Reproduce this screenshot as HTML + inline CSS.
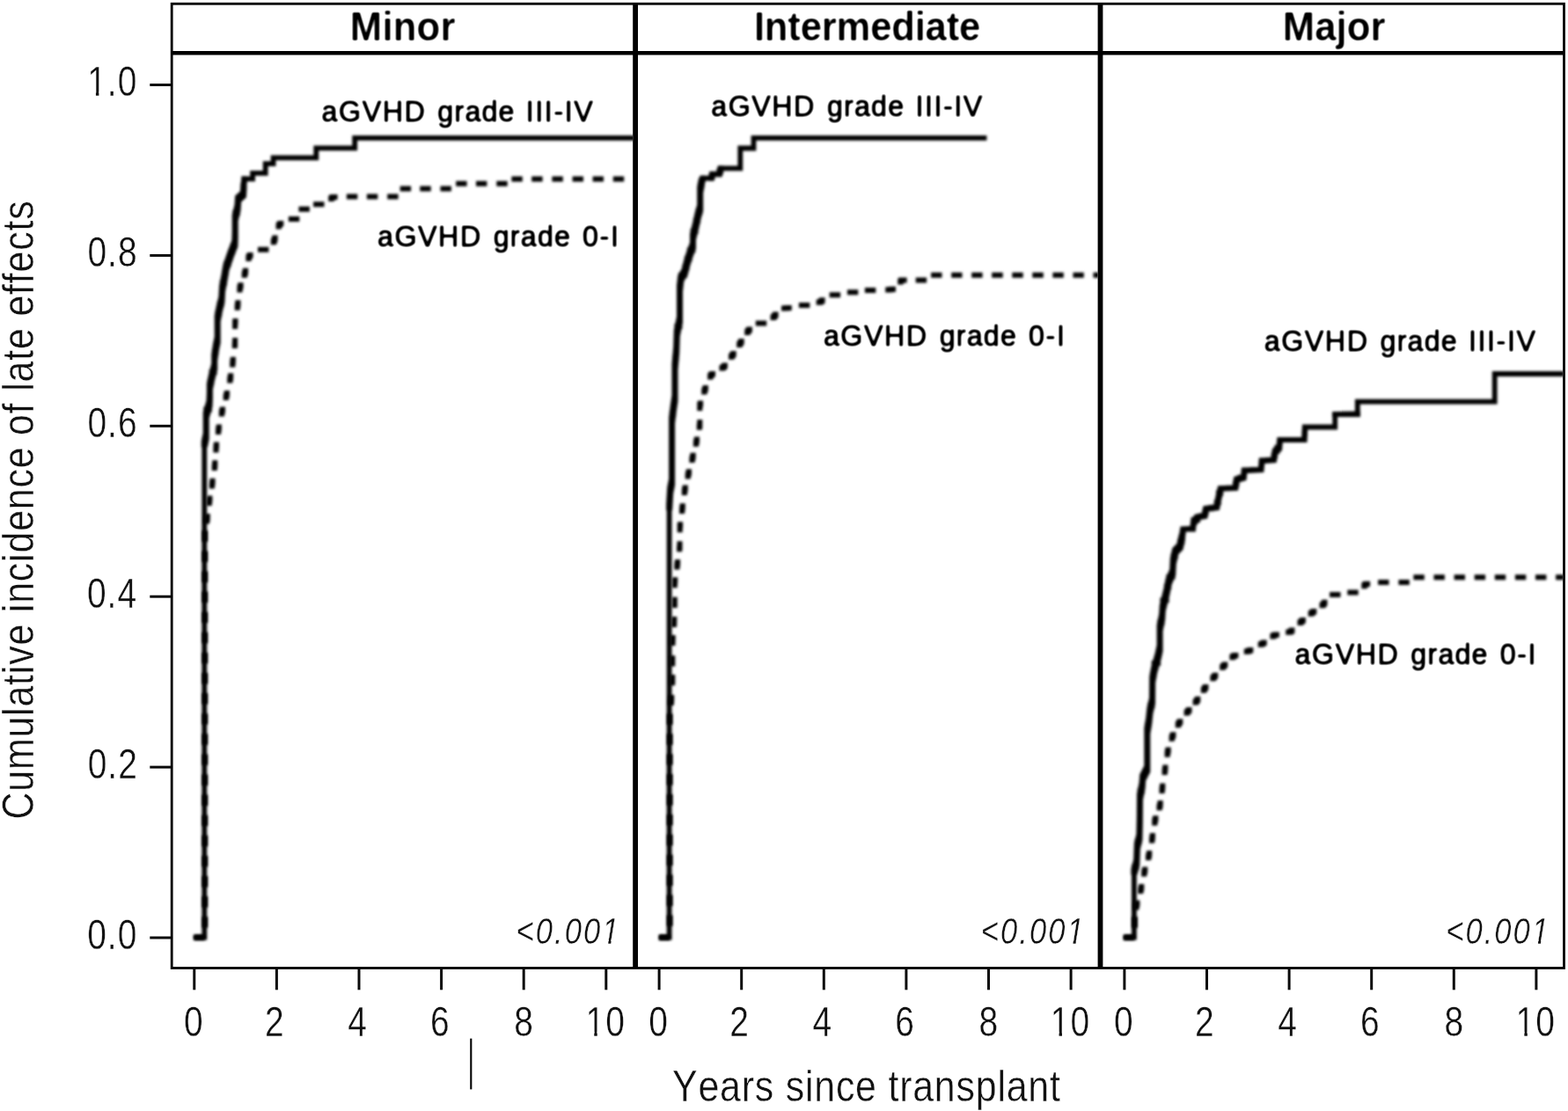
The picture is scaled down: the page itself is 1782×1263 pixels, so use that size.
<!DOCTYPE html>
<html lang="en">
<head>
<meta charset="utf-8">
<title>Cumulative incidence of late effects</title>
<style>
html,body{margin:0;padding:0;background:#fff;}
body{width:1782px;height:1263px;overflow:hidden;font-family:"Liberation Sans",Arial,Helvetica,sans-serif;}
svg{display:block;}
text{white-space:pre;font-kerning:none;}
</style>
</head>
<body>
<svg width="1782" height="1263" viewBox="0 0 1782 1263" font-family="Liberation Sans, Arial, Helvetica, sans-serif">
<rect x="0" y="0" width="1782" height="1263" fill="#fff"/>
<defs>
<clipPath id="cp0"><rect x="196.7" y="60" width="522.5" height="1040"/></clipPath>
<clipPath id="cp1"><rect x="725.0" y="60" width="522.6" height="1040"/></clipPath>
<clipPath id="cp2"><rect x="1253.4" y="60" width="522.5" height="1040"/></clipPath>
<filter id="soft" filterUnits="userSpaceOnUse" x="0" y="0" width="1782" height="1263"><feGaussianBlur stdDeviation="1.4"/></filter>
<filter id="softtext" filterUnits="userSpaceOnUse" x="0" y="0" width="1782" height="1263"><feGaussianBlur stdDeviation="0.8"/><feComponentTransfer><feFuncA type="linear" slope="1.5" intercept="-0.25"/></feComponentTransfer></filter>
<filter id="softhdr" filterUnits="userSpaceOnUse" x="0" y="0" width="1782" height="80"><feGaussianBlur stdDeviation="0.8"/><feComponentTransfer><feFuncA type="linear" slope="1.5" intercept="-0.33"/></feComponentTransfer></filter>
</defs>
<g id="curves-minor" clip-path="url(#cp0)" fill="#000" stroke="none">
<path d="M220.4,1062.8 235.2,1062.8 235.2,1068.6 220.4,1068.6Z M229.4,497.4 235.2,497.4 235.2,1068.6 229.4,1068.6Z M229.4,497.4 237.1,497.4 237.1,503.2 229.4,503.2Z M231.3,462.6 237.1,462.6 237.1,503.2 231.3,503.2Z M231.3,462.6 240.9,462.6 240.9,468.4 231.3,468.4Z M235.1,451.6 240.9,451.6 240.9,468.4 235.1,468.4Z M235.1,451.6 241.3,451.6 241.3,457.4 235.1,457.4Z M235.5,431.5 241.3,431.5 241.3,457.4 235.5,457.4Z M235.5,431.5 243.4,431.5 243.4,437.3 235.5,437.3Z M237.6,420.1 243.4,420.1 243.4,437.3 237.6,437.3Z M237.6,420.1 246.6,420.1 246.6,425.9 237.6,425.9Z M240.8,397.3 246.6,397.3 246.6,425.9 240.8,425.9Z M240.8,397.3 248.5,397.3 248.5,403.1 240.8,403.1Z M242.7,387.2 248.5,387.2 248.5,403.1 242.7,403.1Z M242.7,387.2 250.1,387.2 250.1,393 242.7,393Z M244.3,353.6 250.1,353.6 250.1,393 244.3,393Z M244.3,353.6 252.3,353.6 252.3,359.4 244.3,359.4Z M246.5,342.9 252.3,342.9 252.3,359.4 246.5,359.4Z M246.5,342.9 254.8,342.9 254.8,348.6 246.5,348.6Z M249,331.4 254.8,331.4 254.8,348.6 249,348.6Z M249,331.4 255.5,331.4 255.5,337.2 249,337.2Z M249.7,318.8 255.5,318.8 255.5,337.2 249.7,337.2Z M249.7,318.8 258,318.8 258,324.6 249.7,324.6Z M252.2,306.7 258,306.7 258,324.6 252.2,324.6Z M252.2,306.7 259.9,306.7 259.9,312.5 252.2,312.5Z M254.1,297.1 259.9,297.1 259.9,312.5 254.1,312.5Z M254.1,297.1 262.7,297.1 262.7,302.9 254.1,302.9Z M256.9,289.9 262.7,289.9 262.7,302.9 256.9,302.9Z M256.9,289.9 264.9,289.9 264.9,295.7 256.9,295.7Z M259.1,283.5 264.9,283.5 264.9,295.7 259.1,295.7Z M259.1,283.5 267.4,283.5 267.4,289.3 259.1,289.3Z M261.6,277.1 267.4,277.1 267.4,289.3 261.6,289.3Z M261.6,277.1 269.8,277.1 269.8,282.9 261.6,282.9Z M264,268.9 269.8,268.9 269.8,282.9 264,282.9Z M264,268.9 270.1,268.9 270.1,274.6 264,274.6Z M264.3,239.1 270.1,239.1 270.1,274.6 264.3,274.6Z M264.3,239.1 272.9,239.1 272.9,244.9 264.3,244.9Z M267.1,228.3 272.9,228.3 272.9,244.9 267.1,244.9Z M267.1,228.3 273.6,228.3 273.6,234.1 267.1,234.1Z M267.8,223.2 273.6,223.2 273.6,234.1 267.8,234.1Z M267.8,223.2 275,223.2 275,229 267.8,229Z M269.2,220.7 275,220.7 275,229 269.2,229Z M269.2,220.7 277.9,220.7 277.9,226.5 269.2,226.5Z M272.1,218.2 277.9,218.2 277.9,226.5 272.1,226.5Z M272.1,218.2 279.3,218.2 279.3,224 272.1,224Z M273.5,213.1 279.3,213.1 279.3,224 273.5,224Z M273.5,213.1 279.9,213.1 279.9,218.9 273.5,218.9Z M274.1,204.2 279.9,204.2 279.9,218.9 274.1,218.9Z M274.1,204.2 280.5,204.2 280.5,210 274.1,210Z M274.7,200.4 280.5,200.4 280.5,210 274.7,210Z M274.7,200.4 290,200.4 290,206.2 274.7,206.2Z M284.2,193.9 290,193.9 290,206.2 284.2,206.2Z M284.2,193.9 304.6,193.9 304.6,199.7 284.2,199.7Z M298.8,183.3 304.6,183.3 304.6,199.7 298.8,199.7Z M298.8,183.3 313.5,183.3 313.5,189.1 298.8,189.1Z M307.7,176.4 313.5,176.4 313.5,189.1 307.7,189.1Z M307.7,176.4 362.2,176.4 362.2,182.2 307.7,182.2Z M356.4,165.4 362.2,165.4 362.2,182.2 356.4,182.2Z M356.4,165.4 406.1,165.4 406.1,171.2 356.4,171.2Z M400.3,154 406.1,154 406.1,171.2 400.3,171.2Z M400.3,154 726.9,154 726.9,159.8 400.3,159.8Z M228.8,501.5 230.7,492.2 237.7,492.2 237.7,499.2 235.8,508.5 228.8,508.5Z M230.7,468.5 237.7,468.5 237.7,499.2 230.7,499.2Z M230.7,468.5 234.5,455.5 241.5,455.5 241.5,462.5 237.7,475.5 230.7,475.5Z M234.5,455.5 234.9,446.5 241.9,446.5 241.9,453.5 241.5,462.5 234.5,462.5Z M234.9,436 241.9,436 241.9,453.5 234.9,453.5Z M234.9,436 237,425.8 244,425.8 244,432.8 241.9,443 234.9,443Z M237,425.8 240.2,413.2 247.2,413.2 247.2,420.2 244,432.8 237,432.8Z M240.2,403 247.2,403 247.2,420.2 240.2,420.2Z M240.2,403 242.1,390.4 249.1,390.4 249.1,397.4 247.2,410 240.2,410Z M242.1,390.4 243.7,382.8 250.7,382.8 250.7,389.8 249.1,397.4 242.1,397.4Z M243.7,358.7 250.7,358.7 250.7,389.8 243.7,389.8Z M243.7,358.7 245.9,347.3 252.9,347.3 252.9,354.3 250.7,365.7 243.7,365.7Z M245.9,347.3 248.4,337.2 255.4,337.2 255.4,344.2 252.9,354.3 245.9,354.3Z M248.4,337.2 249.1,324.5 256.1,324.5 256.1,331.5 255.4,344.2 248.4,344.2Z M249.1,324.5 251.6,311.8 258.6,311.8 258.6,318.8 256.1,331.5 249.1,331.5Z M251.6,311.8 253.5,300.4 260.5,300.4 260.5,307.4 258.6,318.8 251.6,318.8Z M253.5,300.4 256.3,292.5 263.3,292.5 263.3,299.5 260.5,307.4 253.5,307.4Z M256.3,292.5 258.5,286.1 265.5,286.1 265.5,293.1 263.3,299.5 256.3,299.5Z M258.5,286.1 263.4,273.3 270.4,273.3 270.4,280.3 265.5,293.1 258.5,293.1Z M263.4,273.3 263.7,263.2 270.7,263.2 270.7,270.2 270.4,280.3 263.4,280.3Z M263.7,244.2 270.7,244.2 270.7,270.2 263.7,270.2Z M263.7,244.2 266.5,232.8 273.5,232.8 273.5,239.8 270.7,251.2 263.7,251.2Z M266.5,232.8 267.2,222.6 274.2,222.6 274.2,229.6 273.5,239.8 266.5,239.8Z M267.2,222.6 272.9,217.6 279.9,217.6 279.9,224.6 274.2,229.6 267.2,229.6Z M272.9,217.6 273.5,207.4 280.5,207.4 280.5,214.4 279.9,224.6 272.9,224.6Z M273.9,207.8 274.4,200.2 280.8,200.2 280.8,206.4 280.1,214.1 273.9,214.1Z" filter="url(#soft)"/>
<path d="M220.3,1062.7 232.7,1062.7 232.7,1068.7 220.3,1068.7Z M229.9,1042.2 235.9,1042.2 235.9,1054.6 229.9,1054.6Z M229.9,1019.1 235.9,1019.1 235.9,1031.5 229.9,1031.5Z M229.9,996 235.9,996 235.9,1008.4 229.9,1008.4Z M229.9,972.9 235.9,972.9 235.9,985.3 229.9,985.3Z M229.9,949.8 235.9,949.8 235.9,962.2 229.9,962.2Z M229.9,926.7 235.9,926.7 235.9,939.1 229.9,939.1Z M229.9,903.6 235.9,903.6 235.9,916 229.9,916Z M229.9,880.5 235.9,880.5 235.9,892.9 229.9,892.9Z M229.9,857.4 235.9,857.4 235.9,869.8 229.9,869.8Z M229.9,834.3 235.9,834.3 235.9,846.7 229.9,846.7Z M229.9,811.2 235.9,811.2 235.9,823.6 229.9,823.6Z M229.9,788.1 235.9,788.1 235.9,800.5 229.9,800.5Z M229.9,765 235.9,765 235.9,777.4 229.9,777.4Z M229.9,741.9 235.9,741.9 235.9,754.3 229.9,754.3Z M229.9,718.8 235.9,718.8 235.9,731.2 229.9,731.2Z M229.9,695.7 235.9,695.7 235.9,708.1 229.9,708.1Z M229.9,672.6 235.9,672.6 235.9,685 229.9,685Z M229.9,649.5 235.9,649.5 235.9,661.9 229.9,661.9Z M229.9,626.4 235.9,626.4 235.9,638.8 229.9,638.8Z M229.9,603.3 235.9,603.3 235.9,615.7 229.9,615.7Z M231.8,589.5 232.5,587 238.5,587 238.5,593 237.8,595.5 231.8,595.5Z M232.5,587 232.8,584.1 238.8,584.1 238.8,590.1 238.5,593 232.5,593Z M234.7,569.1 235,566.2 241,566.2 241,572.2 240.7,575.1 234.7,575.1Z M235,566.2 235.4,563.5 241.4,563.5 241.4,569.5 241,572.2 235,572.2Z M237.8,549.4 238.2,546.6 244.2,546.6 244.2,552.6 243.8,555.4 237.8,555.4Z M238.2,546.6 238.6,543.8 244.6,543.8 244.6,549.8 244.2,552.6 238.2,552.6Z M240.7,529.1 241.1,526.3 247.1,526.3 247.1,532.3 246.7,535.1 240.7,535.1Z M241.1,526.3 241.3,523.3 247.3,523.3 247.3,529.3 247.1,532.3 241.1,532.3Z M242.4,508.4 242.6,505.4 248.6,505.4 248.6,511.4 248.4,514.4 242.4,514.4Z M242.6,505.4 243,502.6 249,502.6 249,508.6 248.6,511.4 242.6,511.4Z M245,487.9 245.4,485.1 251.4,485.1 251.4,491.1 251,493.9 245,493.9Z M245.4,485.1 245.9,482.4 251.9,482.4 251.9,488.4 251.4,491.1 245.4,491.1Z M248.8,467.6 249.3,464.9 255.3,464.9 255.3,470.9 254.8,473.6 248.8,473.6Z M249.3,464.9 250,462.4 256,462.4 256,468.4 255.3,470.9 249.3,470.9Z M253.7,449.1 254.4,446.6 260.4,446.6 260.4,452.6 259.7,455.1 253.7,455.1Z M254.4,446.6 255,444 261,444 261,450 260.4,452.6 254.4,452.6Z M258.2,429.6 258.8,427 264.8,427 264.8,433 264.2,435.6 258.2,435.6Z M258.8,427 259.2,424.2 265.2,424.2 265.2,430.2 264.8,433 258.8,433Z M261.2,411.4 261.6,408.6 267.6,408.6 267.6,414.6 267.2,417.4 261.2,417.4Z M261.6,408.6 261.9,405.7 267.9,405.7 267.9,411.7 267.6,414.6 261.6,414.6Z M263.8,390 264.1,387.1 270.1,387.1 270.1,393.1 269.8,396 263.8,396Z M264.1,383.9 270.1,383.9 270.1,393.1 264.1,393.1Z M264.1,364.9 270.1,364.9 270.1,374.1 264.1,374.1Z M264.1,364.9 264.5,362.1 270.5,362.1 270.5,368.1 270.1,370.9 264.1,370.9Z M266.7,346.8 267.1,344 273.1,344 273.1,350 272.7,352.8 266.7,352.8Z M267.1,344 267.5,341.2 273.5,341.2 273.5,347.2 273.1,350 267.1,350Z M269.4,326.5 269.8,323.7 275.8,323.7 275.8,329.7 275.4,332.5 269.4,332.5Z M269.8,323.7 270.6,321.3 276.6,321.3 276.6,327.3 275.8,329.7 269.8,329.7Z M274.7,309.7 275.5,307.3 281.5,307.3 281.5,313.3 280.7,315.7 274.7,315.7Z M275.5,307.3 276.1,304.7 282.1,304.7 282.1,310.7 281.5,313.3 275.5,313.3Z M279.4,291.1 280,288.5 286,288.5 286,294.5 285.4,297.1 279.4,297.1Z M280,288.5 281.6,286.9 287.6,286.9 287.6,292.9 286,294.5 280,294.5Z M293,280.8 305.4,280.8 305.4,286.8 293,286.8Z M307.8,272.2 308.8,270 314.8,270 314.8,276 313.8,278.2 307.8,278.2Z M308.8,270 309.6,267.6 315.6,267.6 315.6,273.6 314.8,276 308.8,276Z M313.6,254.6 314.4,252.2 320.4,252.2 320.4,258.2 319.6,260.6 313.6,260.6Z M314.4,252.2 316.3,250.9 322.3,250.9 322.3,256.9 320.4,258.2 314.4,258.2Z M327.9,246.1 340.3,246.1 340.3,252.1 327.9,252.1Z M339.5,234.8 351.9,234.8 351.9,240.8 339.5,240.8Z M356.1,229.3 368.5,229.3 368.5,235.3 356.1,235.3Z M373.2,222.9 374.7,221.2 380.7,221.2 380.7,227.2 379.2,228.9 373.2,228.9Z M374.7,221.2 377.6,220.9 383.6,220.9 383.6,226.9 380.7,227.2 374.7,227.2Z M393.9,220.6 406.3,220.6 406.3,226.6 393.9,226.6Z M416.9,220.6 429.3,220.6 429.3,226.6 416.9,226.6Z M440.2,220.6 452.6,220.6 452.6,226.6 440.2,226.6Z M454.7,211.5 467.1,211.5 467.1,217.5 454.7,217.5Z M477.3,211.5 489.7,211.5 489.7,217.5 477.3,217.5Z M500.5,211.5 512.9,211.5 512.9,217.5 500.5,217.5Z M518.2,205.8 530.6,205.8 530.6,211.8 518.2,211.8Z M541,205.8 553.4,205.8 553.4,211.8 541,211.8Z M564.3,205.8 576.7,205.8 576.7,211.8 564.3,211.8Z M581.4,200.4 593.8,200.4 593.8,206.4 581.4,206.4Z M604.2,200.4 616.6,200.4 616.6,206.4 604.2,206.4Z M627.4,200.4 639.8,200.4 639.8,206.4 627.4,206.4Z M650.6,200.4 663,200.4 663,206.4 650.6,206.4Z M673.6,200.4 686,200.4 686,206.4 673.6,206.4Z M696.8,200.4 709.2,200.4 709.2,206.4 696.8,206.4Z" filter="url(#soft)"/>
</g>
<g id="curves-intermediate" clip-path="url(#cp1)" fill="#000" stroke="none">
<path d="M749.2,1062.8 763.5,1062.8 763.5,1068.6 749.2,1068.6Z M757.7,564.4 763.5,564.4 763.5,1068.6 757.7,1068.6Z M757.7,564.4 764.6,564.4 764.6,570.2 757.7,570.2Z M758.8,549.9 764.6,549.9 764.6,570.2 758.8,570.2Z M758.8,549.9 766.5,549.9 766.5,555.6 758.8,555.6Z M760.7,467.5 766.5,467.5 766.5,555.6 760.7,555.6Z M760.7,467.5 768.4,467.5 768.4,473.3 760.7,473.3Z M762.6,454.9 768.4,454.9 768.4,473.3 762.6,473.3Z M762.6,454.9 769.9,454.9 769.9,460.6 762.6,460.6Z M764.1,404.3 769.9,404.3 769.9,460.6 764.1,460.6Z M764.1,404.3 771.6,404.3 771.6,410.1 764.1,410.1Z M765.8,385.3 771.6,385.3 771.6,410.1 765.8,410.1Z M765.8,385.3 772.2,385.3 772.2,391.1 765.8,391.1Z M766.4,368.2 772.2,368.2 772.2,391.1 766.4,391.1Z M766.4,368.2 775.4,368.2 775.4,374 766.4,374Z M769.6,319.4 775.4,319.4 775.4,374 769.6,374Z M769.6,319.4 776.7,319.4 776.7,325.2 769.6,325.2Z M770.9,309.9 776.7,309.9 776.7,325.2 770.9,325.2Z M770.9,309.9 781.1,309.9 781.1,315.7 770.9,315.7Z M775.3,301.1 781.1,301.1 781.1,315.7 775.3,315.7Z M775.3,301.1 783.6,301.1 783.6,306.9 775.3,306.9Z M777.8,291.3 783.6,291.3 783.6,306.9 777.8,306.9Z M777.8,291.3 786.6,291.3 786.6,297.1 777.8,297.1Z M780.8,281.5 786.6,281.5 786.6,297.1 780.8,297.1Z M780.8,281.5 790.4,281.5 790.4,287.3 780.8,287.3Z M784.6,259.9 790.4,259.9 790.4,287.3 784.6,287.3Z M784.6,259.9 793.6,259.9 793.6,265.8 784.6,265.8Z M787.8,247.9 793.6,247.9 793.6,265.8 787.8,265.8Z M787.8,247.9 796.1,247.9 796.1,253.7 787.8,253.7Z M790.3,237.8 796.1,237.8 796.1,253.7 790.3,253.7Z M790.3,237.8 798.6,237.8 798.6,243.6 790.3,243.6Z M792.8,208.1 798.6,208.1 798.6,243.6 792.8,243.6Z M792.8,208.1 800.5,208.1 800.5,213.8 792.8,213.8Z M794.7,201.4 800.5,201.4 800.5,213.8 794.7,213.8Z M794.7,201.4 801.8,201.4 801.8,207.2 794.7,207.2Z M796,199.8 801.8,199.8 801.8,207.2 796,207.2Z M796,199.8 811.3,199.8 811.3,205.6 796,205.6Z M805.5,197.4 811.3,197.4 811.3,205.6 805.5,205.6Z M805.5,197.4 812.6,197.4 812.6,203.2 805.5,203.2Z M806.8,195.1 812.6,195.1 812.6,203.2 806.8,203.2Z M806.8,195.1 820.2,195.1 820.2,200.9 806.8,200.9Z M814.4,191.8 820.2,191.8 820.2,200.9 814.4,200.9Z M814.4,191.8 822.1,191.8 822.1,197.6 814.4,197.6Z M816.3,188.4 822.1,188.4 822.1,197.6 816.3,197.6Z M816.3,188.4 844.2,188.4 844.2,194.2 816.3,194.2Z M838.4,165.6 844.2,165.6 844.2,194.2 838.4,194.2Z M838.4,165.6 859.4,165.6 859.4,171.4 838.4,171.4Z M853.6,153.9 859.4,153.9 859.4,171.4 853.6,171.4Z M853.6,153.9 1121.4,153.9 1121.4,159.7 853.6,159.7Z M757.1,573.3 758.2,554.3 765.2,554.3 765.2,561.3 764.1,580.3 757.1,580.3Z M758.2,554.3 760.1,544.2 767.1,544.2 767.1,551.2 765.2,561.3 758.2,561.3Z M760.1,474.5 767.1,474.5 767.1,551.2 760.1,551.2Z M760.1,474.5 762,459.3 769,459.3 769,466.3 767.1,481.5 760.1,481.5Z M762,459.3 763.5,449.2 770.5,449.2 770.5,456.2 769,466.3 762,466.3Z M763.5,413.2 770.5,413.2 770.5,456.2 763.5,456.2Z M763.5,413.2 765.2,394.2 772.2,394.2 772.2,401.2 770.5,420.2 763.5,420.2Z M765.2,394.2 765.8,375.2 772.8,375.2 772.8,382.2 772.2,401.2 765.2,401.2Z M765.8,375.2 769,360 776,360 776,367 772.8,382.2 765.8,382.2Z M769,324.5 776,324.5 776,367 769,367Z M769,324.5 770.3,313.1 777.3,313.1 777.3,320.1 776,331.5 769,331.5Z M770.3,313.1 774.7,305.5 781.7,305.5 781.7,312.5 777.3,320.1 770.3,320.1Z M774.7,305.5 777.2,295.4 784.2,295.4 784.2,302.4 781.7,312.5 774.7,312.5Z M777.2,295.4 780.2,286 787.2,286 787.2,293 784.2,302.4 777.2,302.4Z M780.2,286 784,275.8 791,275.8 791,282.8 787.2,293 780.2,293Z M784,265.7 791,265.7 791,282.8 784,282.8Z M784,265.7 787.2,253 794.2,253 794.2,260 791,272.7 784,272.7Z M787.2,253 789.7,241.6 796.7,241.6 796.7,248.6 794.2,260 787.2,260Z M789.7,241.6 792.2,232.8 799.2,232.8 799.2,239.8 796.7,248.6 789.7,248.6Z M792.2,212.5 799.2,212.5 799.2,239.8 792.2,239.8Z M792.2,212.5 794.1,202.4 801.1,202.4 801.1,209.4 799.2,219.5 792.2,219.5Z M794.5,202.8 795.8,199.6 802,199.6 802,205.8 800.8,209.1 794.5,209.1Z M805.2,199.6 806.5,194.8 812.9,194.8 812.9,201.2 811.5,205.8 805.2,205.8Z M814.1,194.8 816,188.2 822.4,188.2 822.4,194.4 820.5,201.2 814.1,201.2Z" filter="url(#soft)"/>
<path d="M748.8,1062.7 761.2,1062.7 761.2,1068.7 748.8,1068.7Z M758.3,1040.4 764.3,1040.4 764.3,1052.8 758.3,1052.8Z M758.3,1017.5 764.3,1017.5 764.3,1029.9 758.3,1029.9Z M758.3,994.6 764.3,994.6 764.3,1007 758.3,1007Z M758.3,971.7 764.3,971.7 764.3,984.1 758.3,984.1Z M758.3,948.8 764.3,948.8 764.3,961.2 758.3,961.2Z M758.3,925.9 764.3,925.9 764.3,938.3 758.3,938.3Z M758.3,903 764.3,903 764.3,915.4 758.3,915.4Z M758.3,880.1 764.3,880.1 764.3,892.5 758.3,892.5Z M758.3,857.2 764.3,857.2 764.3,869.6 758.3,869.6Z M758.3,834.3 764.3,834.3 764.3,846.7 758.3,846.7Z M758.3,811.4 764.3,811.4 764.3,823.8 758.3,823.8Z M759.6,796 760,793.1 766,793.1 766,799.1 765.6,802 759.6,802Z M760,793.1 760.2,790.1 766.2,790.1 766.2,796.1 766,799.1 760,799.1Z M761.1,773.3 761.3,770.3 767.3,770.3 767.3,776.3 767.1,779.3 761.1,779.3Z M761.3,767.1 767.3,767.1 767.3,776.3 761.3,776.3Z M761.3,748.4 767.3,748.4 767.3,757.6 761.3,757.6Z M761.3,748.4 761.3,745.2 767.3,745.2 767.3,751.2 767.3,754.4 761.3,754.4Z M761.5,728.1 761.5,724.9 767.5,724.9 767.5,730.9 767.5,734.1 761.5,734.1Z M761.5,724.9 761.7,721.9 767.7,721.9 767.7,727.9 767.5,730.9 761.5,730.9Z M763,707 763.2,704 769.2,704 769.2,710 769,713 763,713Z M763.2,704 763.3,700.9 769.3,700.9 769.3,706.9 769.2,710 763.2,710Z M763.7,685 763.8,681.9 769.8,681.9 769.8,687.9 769.7,691 763.7,691Z M763.8,678.7 769.8,678.7 769.8,687.9 763.8,687.9Z M763.8,659.1 769.8,659.1 769.8,668.3 763.8,668.3Z M763.8,659.1 764.2,656.3 770.2,656.3 770.2,662.3 769.8,665.1 763.8,665.1Z M766.3,641.6 766.7,638.8 772.7,638.8 772.7,644.8 772.3,647.6 766.3,647.6Z M766.7,638.8 767.1,636 773.1,636 773.1,642 772.7,644.8 766.7,644.8Z M769.1,621.3 769.5,618.5 775.5,618.5 775.5,624.5 775.1,627.3 769.1,627.3Z M769.5,618.5 769.5,615.3 775.5,615.3 775.5,621.3 775.5,624.5 769.5,624.5Z M769.7,599.2 769.7,596 775.7,596 775.7,602 775.7,605.2 769.7,605.2Z M769.7,596 770.1,593.2 776.1,593.2 776.1,599.2 775.7,602 769.7,602Z M772,577.9 772.4,575.1 778.4,575.1 778.4,581.1 778,583.9 772,583.9Z M772.4,575.1 772.8,572.3 778.8,572.3 778.8,578.3 778.4,581.1 772.4,581.1Z M774.8,557 775.2,554.2 781.2,554.2 781.2,560.2 780.8,563 774.8,563Z M775.2,554.2 775.8,551.6 781.8,551.6 781.8,557.6 781.2,560.2 775.2,560.2Z M778.7,538.4 779.3,535.8 785.3,535.8 785.3,541.8 784.7,544.4 778.7,544.4Z M779.3,535.8 780,533.3 786,533.3 786,539.3 785.3,541.8 779.3,541.8Z M783.4,519.9 784.1,517.4 790.1,517.4 790.1,523.4 789.4,525.9 783.4,525.9Z M784.1,517.4 784.7,514.8 790.7,514.8 790.7,520.8 790.1,523.4 784.1,523.4Z M787.9,501.7 788.5,499.1 794.5,499.1 794.5,505.1 793.9,507.7 787.9,507.7Z M788.5,499.1 789,496.4 795,496.4 795,502.4 794.5,505.1 788.5,505.1Z M791.8,482.8 792.3,480.1 798.3,480.1 798.3,486.1 797.8,488.8 791.8,488.8Z M792.3,476.9 798.3,476.9 798.3,486.1 792.3,486.1Z M792.3,457.9 798.3,457.9 798.3,467.1 792.3,467.1Z M792.3,457.9 793.1,455.5 799.1,455.5 799.1,461.5 798.3,463.9 792.3,463.9Z M797.2,442.6 798,440.2 804,440.2 804,446.2 803.2,448.6 797.2,448.6Z M798,440.2 798.9,437.9 804.9,437.9 804.9,443.9 804,446.2 798,446.2Z M804.1,425.5 805,423.2 811,423.2 811,429.2 810.1,431.5 804.1,431.5Z M805,423.2 807,422 813,422 813,428 811,429.2 805,429.2Z M817.5,415.5 819.5,414.3 825.5,414.3 825.5,420.3 823.5,421.5 817.5,421.5Z M819.5,414.3 820.9,412.5 826.9,412.5 826.9,418.5 825.5,420.3 819.5,420.3Z M828,402.8 829.4,401 835.4,401 835.4,407 834,408.8 828,408.8Z M829.4,401 830.7,399.1 836.7,399.1 836.7,405.1 835.4,407 829.4,407Z M837.2,389 838.5,387.1 844.5,387.1 844.5,393.1 843.2,395 837.2,395Z M838.5,387.1 839.7,385.1 845.7,385.1 845.7,391.1 844.5,393.1 838.5,393.1Z M846.2,375.1 847.4,373.1 853.4,373.1 853.4,379.1 852.2,381.1 846.2,381.1Z M847.4,373.1 848.9,371.4 854.9,371.4 854.9,377.4 853.4,379.1 847.4,379.1Z M858.8,364.5 871.2,364.5 871.2,370.5 858.8,370.5Z M875.6,358 877.2,356.4 883.2,356.4 883.2,362.4 881.6,364 875.6,364Z M877.2,356.4 878.6,354.6 884.6,354.6 884.6,360.6 883.2,362.4 877.2,362.4Z M888,347.5 893.8,346.9 899.8,346.9 899.8,352.9 894,353.5 888,353.5Z M907.9,344.1 920.3,344.1 920.3,350.1 907.9,350.1Z M927.7,340.8 930,339.9 936,339.9 936,345.9 933.7,346.8 927.7,346.8Z M930,339.9 931.6,338.3 937.6,338.3 937.6,344.3 936,345.9 930,345.9Z M942.7,332.3 955.1,332.3 955.1,338.3 942.7,338.3Z M962.9,329.2 975.3,329.2 975.3,335.2 962.9,335.2Z M982.9,326.9 995.3,326.9 995.3,332.9 982.9,332.9Z M1006.2,326.4 1012,325.8 1018,325.8 1018,331.8 1012.2,332.4 1006.2,332.4Z M1020.2,317.6 1021.4,315.6 1027.4,315.6 1027.4,321.6 1026.2,323.6 1020.2,323.6Z M1021.4,315.6 1024.6,315.6 1030.6,315.6 1030.6,321.6 1027.4,321.6 1021.4,321.6Z M1040.7,315.5 1047.1,315.4 1053.1,315.4 1053.1,321.4 1046.7,321.5 1040.7,321.5Z M1058.1,309.7 1070.5,309.7 1070.5,315.7 1058.1,315.7Z M1081.2,309.7 1093.5,309.7 1093.5,315.7 1081.2,315.7Z M1104.2,309.7 1116.6,309.7 1116.6,315.7 1104.2,315.7Z M1127.2,309.7 1139.7,309.7 1139.7,315.7 1127.2,315.7Z M1150.3,309.7 1162.7,309.7 1162.7,315.7 1150.3,315.7Z M1173.3,309.7 1185.8,309.7 1185.8,315.7 1173.3,315.7Z M1196.4,309.7 1208.8,309.7 1208.8,315.7 1196.4,315.7Z M1219.5,309.7 1231.8,309.7 1231.8,315.7 1219.5,315.7Z M1242.5,309.7 1254.9,309.7 1254.9,315.7 1242.5,315.7Z" filter="url(#soft)"/>
</g>
<g id="curves-major" clip-path="url(#cp2)" fill="#000" stroke="none">
<path d="M1277.3,1062.8 1291.8,1062.8 1291.8,1068.6 1277.3,1068.6Z M1286,983 1291.8,983 1291.8,1068.6 1286,1068.6Z M1286,983 1294.6,983 1294.6,988.8 1286,988.8Z M1288.8,968.4 1294.6,968.4 1294.6,988.8 1288.8,988.8Z M1288.8,968.4 1295.3,968.4 1295.3,974.2 1288.8,974.2Z M1289.5,953.9 1295.3,953.9 1295.3,974.2 1289.5,974.2Z M1289.5,953.9 1297.8,953.9 1297.8,959.6 1289.5,959.6Z M1292,939.3 1297.8,939.3 1297.8,959.6 1292,959.6Z M1292,939.3 1298.2,939.3 1298.2,945.1 1292,945.1Z M1292.4,916.3 1298.2,916.3 1298.2,945.1 1292.4,945.1Z M1292.4,916.3 1298.4,916.3 1298.4,922.1 1292.4,922.1Z M1292.6,896.5 1298.4,896.5 1298.4,922.1 1292.6,922.1Z M1292.6,896.5 1301,896.5 1301,902.2 1292.6,902.2Z M1295.2,885.6 1301,885.6 1301,902.2 1295.2,902.2Z M1295.2,885.6 1301.6,885.6 1301.6,891.5 1295.2,891.5Z M1295.8,878.7 1301.6,878.7 1301.6,891.5 1295.8,891.5Z M1295.8,878.7 1304.2,878.7 1304.2,884.5 1295.8,884.5Z M1298.3,873.6 1304.2,873.6 1304.2,884.5 1298.3,884.5Z M1298.3,873.6 1306.7,873.6 1306.7,879.4 1298.3,879.4Z M1300.9,822.3 1306.7,822.3 1306.7,879.4 1300.9,879.4Z M1300.9,822.3 1308.6,822.3 1308.6,828.1 1300.9,828.1Z M1302.8,810.9 1308.6,810.9 1308.6,828.1 1302.8,828.1Z M1302.8,810.9 1309.8,810.9 1309.8,816.7 1302.8,816.7Z M1304,799.5 1309.8,799.5 1309.8,816.7 1304,816.7Z M1304,799.5 1312.4,799.5 1312.4,805.3 1304,805.3Z M1306.6,781.8 1312.4,781.8 1312.4,805.3 1306.6,805.3Z M1306.6,781.8 1312.6,781.8 1312.6,787.6 1306.6,787.6Z M1306.8,764.5 1312.6,764.5 1312.6,787.6 1306.8,787.6Z M1306.8,764.5 1314.5,764.5 1314.5,770.2 1306.8,770.2Z M1308.7,751 1314.5,751 1314.5,770.2 1308.7,770.2Z M1308.7,751 1319.1,751 1319.1,756.8 1308.7,756.8Z M1313.3,738.4 1319.1,738.4 1319.1,756.8 1313.3,756.8Z M1313.3,738.4 1321,738.4 1321,744.1 1313.3,744.1Z M1315.2,704.8 1321,704.8 1321,744.1 1315.2,744.1Z M1315.2,704.8 1323.6,704.8 1323.6,710.5 1315.2,710.5Z M1317.8,693.4 1323.6,693.4 1323.6,710.5 1317.8,710.5Z M1317.8,693.4 1324.2,693.4 1324.2,699.1 1317.8,699.1Z M1318.4,679.5 1324.2,679.5 1324.2,699.1 1318.4,699.1Z M1318.4,679.5 1328.6,679.5 1328.6,685.2 1318.4,685.2Z M1322.8,664.2 1328.6,664.2 1328.6,685.2 1322.8,685.2Z M1322.8,664.2 1331.2,664.2 1331.2,670 1322.8,670Z M1325.4,652.9 1331.2,652.9 1331.2,670 1325.4,670Z M1325.4,652.9 1335.6,652.9 1335.6,658.6 1325.4,658.6Z M1329.8,641.5 1335.6,641.5 1335.6,658.6 1329.8,658.6Z M1329.8,641.5 1336.2,641.5 1336.2,647.2 1329.8,647.2Z M1330.4,629.4 1336.2,629.4 1336.2,647.2 1330.4,647.2Z M1330.4,629.4 1338.8,629.4 1338.8,635.2 1330.4,635.2Z M1333,622.4 1338.8,622.4 1338.8,635.2 1333,635.2Z M1333,622.4 1341.3,622.4 1341.3,628.2 1333,628.2Z M1335.5,619.9 1341.3,619.9 1341.3,628.2 1335.5,628.2Z M1335.5,619.9 1343.8,619.9 1343.8,625.7 1335.5,625.7Z M1338,612.9 1343.8,612.9 1343.8,625.7 1338,625.7Z M1338,612.9 1346.4,612.9 1346.4,618.7 1338,618.7Z M1340.6,602.9 1346.4,602.9 1346.4,618.7 1340.6,618.7Z M1340.6,602.9 1347.5,602.9 1347.5,608.7 1340.6,608.7Z M1341.7,598.6 1347.5,598.6 1347.5,608.7 1341.7,608.7Z M1341.7,598.6 1353,598.6 1353,604.4 1341.7,604.4Z M1347.2,598.4 1353,598.4 1353,604.4 1347.2,604.4Z M1347.2,598.4 1358.5,598.4 1358.5,604.2 1347.2,604.2Z M1352.7,594.9 1358.5,594.9 1358.5,604.2 1352.7,604.2Z M1352.7,594.9 1359.3,594.9 1359.3,600.6 1352.7,600.6Z M1353.5,588.1 1359.3,588.1 1359.3,600.6 1353.5,600.6Z M1353.5,588.1 1364.1,588.1 1364.1,594 1353.5,594Z M1358.3,585 1364.1,585 1364.1,594 1358.3,594Z M1358.3,585 1368,585 1368,590.8 1358.3,590.8Z M1362.2,583.4 1368,583.4 1368,590.8 1362.2,590.8Z M1362.2,583.4 1372,583.4 1372,589.2 1362.2,589.2Z M1366.2,579.5 1372,579.5 1372,589.2 1366.2,589.2Z M1366.2,579.5 1373.6,579.5 1373.6,585.2 1366.2,585.2Z M1367.8,575.5 1373.6,575.5 1373.6,585.2 1367.8,585.2Z M1367.8,575.5 1379.5,575.5 1379.5,581.3 1367.8,581.3Z M1373.8,573.9 1379.5,573.9 1379.5,581.3 1373.8,581.3Z M1373.8,573.9 1385.5,573.9 1385.5,579.7 1373.8,579.7Z M1379.7,568.4 1385.5,568.4 1385.5,579.7 1379.7,579.7Z M1379.7,568.4 1387.8,568.4 1387.8,574.1 1379.7,574.1Z M1382,557.6 1387.8,557.6 1387.8,574.1 1382,574.1Z M1382,557.6 1390.2,557.6 1390.2,563.5 1382,563.5Z M1384.4,552.5 1390.2,552.5 1390.2,563.5 1384.4,563.5Z M1384.4,552.5 1398.5,552.5 1398.5,558.3 1384.4,558.3Z M1392.7,551.7 1398.5,551.7 1398.5,558.3 1392.7,558.3Z M1392.7,551.7 1406.8,551.7 1406.8,557.5 1392.7,557.5Z M1401,547 1406.8,547 1406.8,557.5 1401,557.5Z M1401,547 1408.4,547 1408.4,552.8 1401,552.8Z M1402.6,542.2 1408.4,542.2 1408.4,552.8 1402.6,552.8Z M1402.6,542.2 1412.3,542.2 1412.3,548 1402.6,548Z M1406.5,539.8 1412.3,539.8 1412.3,548 1406.5,548Z M1406.5,539.8 1416.3,539.8 1416.3,545.6 1406.5,545.6Z M1410.5,535.9 1416.3,535.9 1416.3,545.6 1410.5,545.6Z M1410.5,535.9 1417.1,535.9 1417.1,541.6 1410.5,541.6Z M1411.3,531.9 1417.1,531.9 1417.1,541.6 1411.3,541.6Z M1411.3,531.9 1426.6,531.9 1426.6,537.7 1411.3,537.7Z M1420.8,531.1 1426.6,531.1 1426.6,537.7 1420.8,537.7Z M1420.8,531.1 1436.1,531.1 1436.1,536.9 1420.8,536.9Z M1430.3,526 1436.1,526 1436.1,536.9 1430.3,536.9Z M1430.3,526 1436.9,526 1436.9,531.8 1430.3,531.8Z M1431.1,520.8 1436.9,520.8 1436.9,531.8 1431.1,531.8Z M1431.1,520.8 1443.7,520.8 1443.7,526.6 1431.1,526.6Z M1437.8,520 1443.7,520 1443.7,526.6 1437.8,526.6Z M1437.8,520 1450.4,520 1450.4,525.8 1437.8,525.8Z M1444.6,515.2 1450.4,515.2 1450.4,525.8 1444.6,525.8Z M1444.6,515.2 1452,515.2 1452,521 1444.6,521Z M1446.2,510.5 1452,510.5 1452,521 1446.2,521Z M1446.2,510.5 1454.3,510.5 1454.3,516.3 1446.2,516.3Z M1448.5,505.8 1454.3,505.8 1454.3,516.3 1448.5,516.3Z M1448.5,505.8 1456.7,505.8 1456.7,511.6 1448.5,511.6Z M1450.9,501.4 1456.7,501.4 1456.7,511.6 1450.9,511.6Z M1450.9,501.4 1457.5,501.4 1457.5,507.2 1450.9,507.2Z M1451.7,497.1 1457.5,497.1 1457.5,507.2 1451.7,507.2Z M1451.7,497.1 1485.2,497.1 1485.2,502.9 1451.7,502.9Z M1479.4,489.9 1485.2,489.9 1485.2,502.9 1479.4,502.9Z M1479.4,489.9 1486,489.9 1486,495.6 1479.4,495.6Z M1480.2,482.6 1486,482.6 1486,495.6 1480.2,495.6Z M1480.2,482.6 1520.1,482.6 1520.1,488.4 1480.2,488.4Z M1514.3,468.1 1520.1,468.1 1520.1,488.4 1514.3,488.4Z M1514.3,468.1 1532.9,468.1 1532.9,473.9 1514.3,473.9Z M1527.1,467.9 1532.9,467.9 1532.9,473.9 1527.1,473.9Z M1527.1,467.9 1545.7,467.9 1545.7,473.7 1527.1,473.7Z M1539.9,453.7 1545.7,453.7 1545.7,473.7 1539.9,473.7Z M1539.9,453.7 1701.6,453.7 1701.6,459.5 1539.9,459.5Z M1695.8,422.1 1701.6,422.1 1701.6,459.5 1695.8,459.5Z M1695.8,422.1 1782.9,422.1 1782.9,427.9 1695.8,427.9Z M1285.4,987.4 1288.2,977.3 1295.2,977.3 1295.2,984.3 1292.4,994.4 1285.4,994.4Z M1288.2,977.3 1288.9,958.3 1295.9,958.3 1295.9,965.3 1295.2,984.3 1288.2,984.3Z M1288.9,958.3 1291.4,948.2 1298.4,948.2 1298.4,955.2 1295.9,965.3 1288.9,965.3Z M1291.4,948.2 1291.8,929.2 1298.8,929.2 1298.8,936.2 1298.4,955.2 1291.4,955.2Z M1291.8,929.2 1292,902.2 1299,902.2 1299,909.2 1298.8,936.2 1291.8,936.2Z M1292,902.2 1294.6,889.5 1301.6,889.5 1301.6,896.5 1299,909.2 1292,909.2Z M1294.6,889.5 1295.2,880.6 1302.2,880.6 1302.2,887.6 1301.6,896.5 1294.6,896.5Z M1295.2,880.6 1300.3,870.5 1307.3,870.5 1307.3,877.5 1302.2,887.6 1295.2,887.6Z M1300.3,827.4 1307.3,827.4 1307.3,877.5 1300.3,877.5Z M1300.3,827.4 1302.2,816 1309.2,816 1309.2,823 1307.3,834.4 1300.3,834.4Z M1302.2,816 1303.4,804.6 1310.4,804.6 1310.4,811.6 1309.2,823 1302.2,823Z M1303.4,804.6 1306,793.2 1313,793.2 1313,800.2 1310.4,811.6 1303.4,811.6Z M1306,793.2 1306.2,769.2 1313.2,769.2 1313.2,776.2 1313,800.2 1306,800.2Z M1306.2,769.2 1308.1,758.5 1315.1,758.5 1315.1,765.5 1313.2,776.2 1306.2,776.2Z M1308.1,758.5 1312.7,742.2 1319.7,742.2 1319.7,749.2 1315.1,765.5 1308.1,765.5Z M1312.7,742.2 1314.6,733.3 1321.6,733.3 1321.6,740.3 1319.7,749.2 1312.7,749.2Z M1314.6,710.5 1321.6,710.5 1321.6,740.3 1314.6,740.3Z M1314.6,710.5 1317.2,697.8 1324.2,697.8 1324.2,704.8 1321.6,717.5 1314.6,717.5Z M1317.2,697.8 1317.8,687.7 1324.8,687.7 1324.8,694.7 1324.2,704.8 1317.2,704.8Z M1317.8,687.7 1322.2,670 1329.2,670 1329.2,677 1324.8,694.7 1317.8,694.7Z M1322.2,670 1324.8,657.3 1331.8,657.3 1331.8,664.3 1329.2,677 1322.2,677Z M1324.8,657.3 1329.2,647.2 1336.2,647.2 1336.2,654.2 1331.8,664.3 1324.8,664.3Z M1329.2,647.2 1329.8,634.5 1336.8,634.5 1336.8,641.5 1336.2,654.2 1329.2,654.2Z M1329.8,634.5 1332.4,623.1 1339.4,623.1 1339.4,630.1 1336.8,641.5 1329.8,641.5Z M1332.4,623.1 1337.4,618 1344.4,618 1344.4,625 1339.4,630.1 1332.4,630.1Z M1337.4,618 1340,606.6 1347,606.6 1347,613.6 1344.4,625 1337.4,625Z M1340.3,607 1341.5,598.4 1347.8,598.4 1347.8,604.6 1346.7,613.2 1340.3,613.2Z M1341.5,598.4 1352.5,598.1 1358.8,598.1 1358.8,604.5 1347.8,604.6 1341.5,604.6Z M1352.5,598.1 1353.2,591 1359.5,591 1359.5,597.4 1358.8,604.5 1352.5,604.5Z M1353.2,591 1358,584.8 1364.3,584.8 1364.3,591 1359.5,597.4 1353.2,597.4Z M1358,584.8 1366,583.1 1372.2,583.1 1372.2,589.5 1364.3,591 1358,591Z M1366,583.1 1367.5,575.2 1373.8,575.2 1373.8,581.5 1372.2,589.5 1366,589.5Z M1367.5,575.2 1379.5,573.6 1385.8,573.6 1385.8,580 1373.8,581.5 1367.5,581.5Z M1379.5,573.6 1381.8,562.5 1388,562.5 1388,568.9 1385.8,580 1379.5,580Z M1381.8,562.5 1384.2,552.2 1390.5,552.2 1390.5,558.5 1388,568.9 1381.8,568.9Z M1384.2,552.2 1400.8,551.5 1407,551.5 1407,557.8 1390.5,558.5 1384.2,558.5Z M1400.8,551.5 1402.3,542 1408.7,542 1408.7,548.2 1407,557.8 1400.8,557.8Z M1402.3,542 1410.2,539.5 1416.5,539.5 1416.5,545.9 1408.7,548.2 1402.3,548.2Z M1410.2,539.5 1411,531.6 1417.3,531.6 1417.3,538 1416.5,545.9 1410.2,545.9Z M1411,531.6 1430,530.9 1436.3,530.9 1436.3,537.1 1417.3,538 1411,538Z M1430,530.9 1430.8,520.5 1437.2,520.5 1437.2,526.9 1436.3,537.1 1430,537.1Z M1430.8,520.5 1444.3,519.8 1450.7,519.8 1450.7,526 1437.2,526.9 1430.8,526.9Z M1444.3,519.8 1446,510.2 1452.2,510.2 1452.2,516.5 1450.7,526 1444.3,526Z M1446,510.2 1450.7,505.6 1457,505.6 1457,511.9 1452.2,516.5 1446,516.5Z M1450.7,505.6 1451.5,496.9 1457.8,496.9 1457.8,503.1 1457,511.9 1450.7,511.9Z M1479.2,496.9 1480,482.4 1486.2,482.4 1486.2,488.6 1485.5,503.1 1479.2,503.1Z M1514,467.9 1539.7,467.6 1546,467.6 1546,473.9 1520.3,474.1 1514,474.1Z" filter="url(#soft)"/>
<path d="M1276.8,1062.7 1289.2,1062.7 1289.2,1068.7 1276.8,1068.7Z M1286.6,1042.3 1292.6,1042.3 1292.6,1054.7 1286.6,1054.7Z M1288.2,1028.6 1288.7,1025.9 1294.7,1025.9 1294.7,1031.9 1294.2,1034.6 1288.2,1034.6Z M1288.7,1025.9 1289.4,1023.4 1295.4,1023.4 1295.4,1029.4 1294.7,1031.9 1288.7,1031.9Z M1293.1,1010.1 1293.8,1007.6 1299.8,1007.6 1299.8,1013.6 1299.1,1016.1 1293.1,1016.1Z M1293.8,1007.6 1294.3,1004.9 1300.3,1004.9 1300.3,1010.9 1299.8,1013.6 1293.8,1013.6Z M1297.1,990.6 1297.6,987.9 1303.6,987.9 1303.6,993.9 1303.1,996.6 1297.1,996.6Z M1297.6,987.9 1298.3,985.4 1304.3,985.4 1304.3,991.4 1303.6,993.9 1297.6,993.9Z M1302,972.1 1302.7,969.6 1308.7,969.6 1308.7,975.6 1308,978.1 1302,978.1Z M1302.7,969.6 1303.2,966.9 1309.2,966.9 1309.2,972.9 1308.7,975.6 1302.7,975.6Z M1306,952.6 1306.5,949.9 1312.5,949.9 1312.5,955.9 1312,958.6 1306,958.6Z M1306.5,949.9 1306.9,947.1 1312.9,947.1 1312.9,953.1 1312.5,955.9 1306.5,955.9Z M1309.2,932.5 1309.6,929.7 1315.6,929.7 1315.6,935.7 1315.2,938.5 1309.2,938.5Z M1309.6,929.7 1310.4,927.3 1316.4,927.3 1316.4,933.3 1315.6,935.7 1309.6,935.7Z M1314.5,915.2 1315.3,912.8 1321.3,912.8 1321.3,918.8 1320.5,921.2 1314.5,921.2Z M1315.3,912.8 1315.7,910 1321.7,910 1321.7,916 1321.3,918.8 1315.3,918.8Z M1317.5,896 1317.9,893.2 1323.9,893.2 1323.9,899.2 1323.5,902 1317.5,902Z M1317.9,893.2 1318.3,890.4 1324.3,890.4 1324.3,896.4 1323.9,899.2 1317.9,899.2Z M1320.6,875.1 1321,872.3 1327,872.3 1327,878.3 1326.6,881.1 1320.6,881.1Z M1321,872.3 1321.4,869.5 1327.4,869.5 1327.4,875.5 1327,878.3 1321,878.3Z M1323.6,854.8 1324,852 1330,852 1330,858 1329.6,860.8 1323.6,860.8Z M1324,852 1324.7,849.5 1330.7,849.5 1330.7,855.5 1330,858 1324,858Z M1328.6,836.8 1329.3,834.3 1335.3,834.3 1335.3,840.3 1334.6,842.8 1328.6,842.8Z M1329.3,834.3 1330.4,832.2 1336.4,832.2 1336.4,838.2 1335.3,840.3 1329.3,840.3Z M1335.8,821.2 1336.9,819.1 1342.9,819.1 1342.9,825.1 1341.8,827.2 1335.8,827.2Z M1336.9,819.1 1338.3,817.3 1344.3,817.3 1344.3,823.3 1342.9,825.1 1336.9,825.1Z M1345.6,807.6 1347,805.8 1353,805.8 1353,811.8 1351.6,813.6 1345.6,813.6Z M1347,805.8 1348.5,804.1 1354.5,804.1 1354.5,810.1 1353,811.8 1347,811.8Z M1355.6,795.4 1357.1,793.7 1363.1,793.7 1363.1,799.7 1361.6,801.4 1355.6,801.4Z M1357.1,793.7 1358.3,791.8 1364.3,791.8 1364.3,797.8 1363.1,799.7 1357.1,799.7Z M1364.8,781.8 1366,779.8 1372,779.8 1372,785.8 1370.8,787.8 1364.8,787.8Z M1366,779.8 1367.4,778 1373.4,778 1373.4,784 1372,785.8 1366,785.8Z M1375.4,768.3 1376.8,766.5 1382.8,766.5 1382.8,772.5 1381.4,774.3 1375.4,774.3Z M1376.8,766.5 1378.3,764.8 1384.3,764.8 1384.3,770.8 1382.8,772.5 1376.8,772.5Z M1386.2,755.8 1387.7,754.1 1393.7,754.1 1393.7,760.1 1392.2,761.8 1386.2,761.8Z M1387.7,754.1 1389.3,752.5 1395.3,752.5 1395.3,758.5 1393.7,760.1 1387.7,760.1Z M1397.4,744.3 1399,742.7 1405,742.7 1405,748.7 1403.4,750.3 1397.4,750.3Z M1399,742.7 1401.4,741.9 1407.4,741.9 1407.4,747.9 1405,748.7 1399,748.7Z M1413.8,737.8 1416.2,737 1422.2,737 1422.2,743 1419.8,743.8 1413.8,743.8Z M1416.2,737 1418.3,735.9 1424.3,735.9 1424.3,741.9 1422.2,743 1416.2,743Z M1429.7,729.8 1431.8,728.7 1437.8,728.7 1437.8,734.7 1435.7,735.8 1429.7,735.8Z M1431.8,728.7 1433.7,727.4 1439.7,727.4 1439.7,733.4 1437.8,734.7 1431.8,734.7Z M1443.4,720.4 1445.3,719.1 1451.3,719.1 1451.3,725.1 1449.4,726.4 1443.4,726.4Z M1445.3,719.1 1447.9,718.5 1453.9,718.5 1453.9,724.5 1451.3,725.1 1445.3,725.1Z M1461.2,715.8 1463.8,715.2 1469.8,715.2 1469.8,721.2 1467.2,721.8 1461.2,721.8Z M1463.8,715.2 1465.4,713.6 1471.4,713.6 1471.4,719.6 1469.8,721.2 1463.8,721.2Z M1474.5,705 1476.1,703.4 1482.1,703.4 1482.1,709.4 1480.5,711 1474.5,711Z M1476.1,703.4 1477.9,702 1483.9,702 1483.9,708 1482.1,709.4 1476.1,709.4Z M1486.7,694.7 1488.5,693.3 1494.5,693.3 1494.5,699.3 1492.7,700.7 1486.7,700.7Z M1488.5,693.3 1490.3,691.9 1496.3,691.9 1496.3,697.9 1494.5,699.3 1488.5,699.3Z M1499.6,685.2 1501.4,683.8 1507.4,683.8 1507.4,689.8 1505.6,691.2 1499.6,691.2Z M1501.4,683.8 1502.5,681.7 1508.5,681.7 1508.5,687.7 1507.4,689.8 1501.4,689.8Z M1511.1,673.1 1523.5,673.1 1523.5,679.1 1511.1,679.1Z M1531.3,670.6 1543.7,670.6 1543.7,676.6 1531.3,676.6Z M1547.3,663.3 1548.5,661.3 1554.5,661.3 1554.5,667.3 1553.3,669.3 1547.3,669.3Z M1548.5,661.3 1551.1,660.7 1557.1,660.7 1557.1,666.7 1554.5,667.3 1548.5,667.3Z M1566.1,658.9 1578.5,658.9 1578.5,664.9 1566.1,664.9Z M1589.4,658.9 1601.8,658.9 1601.8,664.9 1589.4,664.9Z M1606.4,653.2 1618.8,653.2 1618.8,659.2 1606.4,659.2Z M1629.5,653.2 1641.9,653.2 1641.9,659.2 1629.5,659.2Z M1652.6,653.2 1665,653.2 1665,659.2 1652.6,659.2Z M1675.7,653.2 1688.1,653.2 1688.1,659.2 1675.7,659.2Z M1698.8,653.2 1711.2,653.2 1711.2,659.2 1698.8,659.2Z M1721.9,653.2 1734.3,653.2 1734.3,659.2 1721.9,659.2Z M1745,653.2 1757.4,653.2 1757.4,659.2 1745,659.2Z M1768.1,653.2 1780.5,653.2 1780.5,659.2 1768.1,659.2Z" filter="url(#soft)"/>
</g>
<g id="annotations" fill="#000" stroke="#000" stroke-width="1.0" stroke-linejoin="round" filter="url(#softtext)">
<text transform="translate(0,137.7) scale(0.954,1)" font-size="33.8"><tspan x="383.23" letter-spacing="1.6">aGVHD</tspan> <tspan x="521.33" letter-spacing="1.25">grade</tspan> <tspan x="626.62" letter-spacing="1.66">III-IV</tspan></text>
<text transform="translate(0,279.9) scale(0.954,1)" font-size="33.8"><tspan x="449.69" letter-spacing="1.6">aGVHD</tspan> <tspan x="587.79" letter-spacing="1.25">grade</tspan> <tspan x="693.97" letter-spacing="1.73">0-I</tspan></text>
<text transform="translate(0,131.7) scale(0.954,1)" font-size="33.8"><tspan x="847.17" letter-spacing="1.6">aGVHD</tspan> <tspan x="985.27" letter-spacing="1.25">grade</tspan> <tspan x="1090.57" letter-spacing="1.66">III-IV</tspan></text>
<text transform="translate(0,393.4) scale(0.954,1)" font-size="33.8"><tspan x="981.03" letter-spacing="1.6">aGVHD</tspan> <tspan x="1119.13" letter-spacing="1.25">grade</tspan> <tspan x="1225.31" letter-spacing="1.73">0-I</tspan></text>
<text transform="translate(0,398.7) scale(0.954,1)" font-size="33.8"><tspan x="1506.08" letter-spacing="1.6">aGVHD</tspan> <tspan x="1644.18" letter-spacing="1.25">grade</tspan> <tspan x="1749.48" letter-spacing="1.66">III-IV</tspan></text>
<text transform="translate(0,755.2) scale(0.954,1)" font-size="33.8"><tspan x="1542.56" letter-spacing="1.6">aGVHD</tspan> <tspan x="1680.66" letter-spacing="1.25">grade</tspan> <tspan x="1786.84" letter-spacing="1.73">0-I</tspan></text>
</g>
<g id="frame" fill="none" stroke="#000">
<rect x="195.2" y="4.3" width="1582.3" height="1096.2" stroke-width="2.8"/>
<line x1="195.2" y1="60.3" x2="1777.5" y2="60.3" stroke-width="4.6"/>
<line x1="722.1" y1="4.3" x2="722.1" y2="1100.5" stroke-width="5.8"/>
<line x1="1250.5" y1="4.3" x2="1250.5" y2="1100.5" stroke-width="5.8"/>
</g>
<g id="ticks" stroke="#0a0a0a" stroke-width="3.0">
<line x1="170.3" y1="1066.0" x2="195.2" y2="1066.0"/>
<line x1="170.3" y1="872.1" x2="195.2" y2="872.1"/>
<line x1="170.3" y1="678.2" x2="195.2" y2="678.2"/>
<line x1="170.3" y1="484.3" x2="195.2" y2="484.3"/>
<line x1="170.3" y1="290.4" x2="195.2" y2="290.4"/>
<line x1="170.3" y1="96.5" x2="195.2" y2="96.5"/>
<line x1="220.8" y1="1100.5" x2="220.8" y2="1125.3"/>
<line x1="314.4" y1="1100.5" x2="314.4" y2="1125.3"/>
<line x1="408.0" y1="1100.5" x2="408.0" y2="1125.3"/>
<line x1="501.6" y1="1100.5" x2="501.6" y2="1125.3"/>
<line x1="595.2" y1="1100.5" x2="595.2" y2="1125.3"/>
<line x1="688.8" y1="1100.5" x2="688.8" y2="1125.3"/>
<line x1="749.1" y1="1100.5" x2="749.1" y2="1125.3"/>
<line x1="842.7" y1="1100.5" x2="842.7" y2="1125.3"/>
<line x1="936.3" y1="1100.5" x2="936.3" y2="1125.3"/>
<line x1="1029.9" y1="1100.5" x2="1029.9" y2="1125.3"/>
<line x1="1123.5" y1="1100.5" x2="1123.5" y2="1125.3"/>
<line x1="1217.1" y1="1100.5" x2="1217.1" y2="1125.3"/>
<line x1="1277.9" y1="1100.5" x2="1277.9" y2="1125.3"/>
<line x1="1371.5" y1="1100.5" x2="1371.5" y2="1125.3"/>
<line x1="1465.1" y1="1100.5" x2="1465.1" y2="1125.3"/>
<line x1="1558.7" y1="1100.5" x2="1558.7" y2="1125.3"/>
<line x1="1652.3" y1="1100.5" x2="1652.3" y2="1125.3"/>
<line x1="1745.9" y1="1100.5" x2="1745.9" y2="1125.3"/>
</g>
<line id="cursor-mark" x1="535.3" y1="1180.6" x2="535.3" y2="1238.4" stroke="#000" stroke-width="2.1"/>
<g id="strip-titles" fill="#000" filter="url(#softhdr)">
<text transform="translate(397.8,46.2) scale(0.93,1)" font-size="46.98" letter-spacing="0.21" font-weight="bold">Minor</text>
<text transform="translate(856.9,46.2) scale(0.93,1)" font-size="46.98" letter-spacing="-0.23" font-weight="bold">Intermediate</text>
<text transform="translate(1457.8,46.2) scale(0.93,1)" font-size="46.98" letter-spacing="0.07" font-weight="bold">Major</text>
</g>
<g id="tick-labels" fill="#111" stroke="#fff" stroke-width="0.4">
<text transform="translate(99.15,109.1) scale(0.815,1)" font-size="47.8" letter-spacing="1.23">1.0</text>
<text transform="translate(99.4,303) scale(0.815,1)" font-size="47.8" letter-spacing="1.23">0.8</text>
<text transform="translate(99.4,496.9) scale(0.815,1)" font-size="47.8" letter-spacing="1.23">0.6</text>
<text transform="translate(98.9,690.8) scale(0.815,1)" font-size="47.8" letter-spacing="1.23">0.4</text>
<text transform="translate(99.65,884.7) scale(0.815,1)" font-size="47.8" letter-spacing="1.23">0.2</text>
<text transform="translate(99.15,1078.6) scale(0.815,1)" font-size="47.8" letter-spacing="1.23">0.0</text>
<text transform="translate(209.02,1177.5) scale(0.815,1)" font-size="47.8" letter-spacing="1.23">0</text>
<text transform="translate(737.32,1177.5) scale(0.815,1)" font-size="47.8" letter-spacing="1.23">0</text>
<text transform="translate(1266.12,1177.5) scale(0.815,1)" font-size="47.8" letter-spacing="1.23">0</text>
<text transform="translate(301.02,1177.5) scale(0.815,1)" font-size="47.8" letter-spacing="1.23">2</text>
<text transform="translate(829.32,1177.5) scale(0.815,1)" font-size="47.8" letter-spacing="1.23">2</text>
<text transform="translate(1358.12,1177.5) scale(0.815,1)" font-size="47.8" letter-spacing="1.23">2</text>
<text transform="translate(395.15,1177.5) scale(0.815,1)" font-size="47.8" letter-spacing="1.23">4</text>
<text transform="translate(923.45,1177.5) scale(0.815,1)" font-size="47.8" letter-spacing="1.23">4</text>
<text transform="translate(1452.25,1177.5) scale(0.815,1)" font-size="47.8" letter-spacing="1.23">4</text>
<text transform="translate(488.95,1177.5) scale(0.815,1)" font-size="47.8" letter-spacing="1.23">6</text>
<text transform="translate(1017.25,1177.5) scale(0.815,1)" font-size="47.8" letter-spacing="1.23">6</text>
<text transform="translate(1546.05,1177.5) scale(0.815,1)" font-size="47.8" letter-spacing="1.23">6</text>
<text transform="translate(584.28,1177.5) scale(0.815,1)" font-size="47.8" letter-spacing="1.23">8</text>
<text transform="translate(1112.58,1177.5) scale(0.815,1)" font-size="47.8" letter-spacing="1.23">8</text>
<text transform="translate(1641.38,1177.5) scale(0.815,1)" font-size="47.8" letter-spacing="1.23">8</text>
<text transform="translate(665.48,1177.5) scale(0.815,1)" font-size="47.8" letter-spacing="1.23">10</text>
<text transform="translate(1193.78,1177.5) scale(0.815,1)" font-size="47.8" letter-spacing="1.23">10</text>
<text transform="translate(1722.58,1177.5) scale(0.815,1)" font-size="47.8" letter-spacing="1.23">10</text>
</g>
<g id="tick-label-trim">
<path transform="translate(99.15,109.1) scale(0.815,1)" d="M2.74,0.90 2.74,-4.67 12.02,-4.67 12.02,0.90Z" fill="#fff"/>
<path transform="translate(99.15,109.1) scale(0.815,1)" d="M16.24,0.90 16.24,-4.67 25.15,-4.67 25.15,0.90Z" fill="#fff"/>
<path transform="translate(665.48,1177.5) scale(0.815,1)" d="M2.74,0.90 2.74,-4.67 12.02,-4.67 12.02,0.90Z" fill="#fff"/>
<path transform="translate(665.48,1177.5) scale(0.815,1)" d="M16.24,0.90 16.24,-4.67 25.15,-4.67 25.15,0.90Z" fill="#fff"/>
<path transform="translate(1193.78,1177.5) scale(0.815,1)" d="M2.74,0.90 2.74,-4.67 12.02,-4.67 12.02,0.90Z" fill="#fff"/>
<path transform="translate(1193.78,1177.5) scale(0.815,1)" d="M16.24,0.90 16.24,-4.67 25.15,-4.67 25.15,0.90Z" fill="#fff"/>
<path transform="translate(1722.58,1177.5) scale(0.815,1)" d="M2.74,0.90 2.74,-4.67 12.02,-4.67 12.02,0.90Z" fill="#fff"/>
<path transform="translate(1722.58,1177.5) scale(0.815,1)" d="M16.24,0.90 16.24,-4.67 25.15,-4.67 25.15,0.90Z" fill="#fff"/>
</g>
<g id="axis-labels" fill="#111" stroke="#fff" stroke-width="0.4">
<text transform="translate(764,1251.9) scale(0.865,1)" font-size="49.6" letter-spacing="0.91">Years since transplant</text>
<text transform="translate(38.0,931.55) rotate(-90) scale(0.865,1)" font-size="49.6" letter-spacing="0.94">Cumulative incidence of late effects</text>
</g>
<g id="p-values" fill="#111" stroke="#fff" stroke-width="0.4">
<text transform="translate(586.55,1072.9) scale(0.81,1)" font-size="42.7" letter-spacing="2.49" font-style="italic">&lt;0.001</text>
<text transform="translate(1114.85,1072.9) scale(0.81,1)" font-size="42.7" letter-spacing="2.49" font-style="italic">&lt;0.001</text>
<text transform="translate(1643.25,1072.9) scale(0.81,1)" font-size="42.7" letter-spacing="2.49" font-style="italic">&lt;0.001</text>
</g>
<g id="p-value-trim">
<path transform="translate(586.55,1072.9) scale(0.81,1)" d="M120.72,0.90 121.34,-4.29 129.73,-4.29 129.11,0.90Z" fill="#fff"/>
<path transform="translate(586.55,1072.9) scale(0.81,1)" d="M132.88,0.90 133.50,-4.29 141.55,-4.29 140.93,0.90Z" fill="#fff"/>
<path transform="translate(1114.85,1072.9) scale(0.81,1)" d="M120.72,0.90 121.34,-4.29 129.73,-4.29 129.11,0.90Z" fill="#fff"/>
<path transform="translate(1114.85,1072.9) scale(0.81,1)" d="M132.88,0.90 133.50,-4.29 141.55,-4.29 140.93,0.90Z" fill="#fff"/>
<path transform="translate(1643.25,1072.9) scale(0.81,1)" d="M120.72,0.90 121.34,-4.29 129.73,-4.29 129.11,0.90Z" fill="#fff"/>
<path transform="translate(1643.25,1072.9) scale(0.81,1)" d="M132.88,0.90 133.50,-4.29 141.55,-4.29 140.93,0.90Z" fill="#fff"/>
</g>
</svg>
</body>
</html>
